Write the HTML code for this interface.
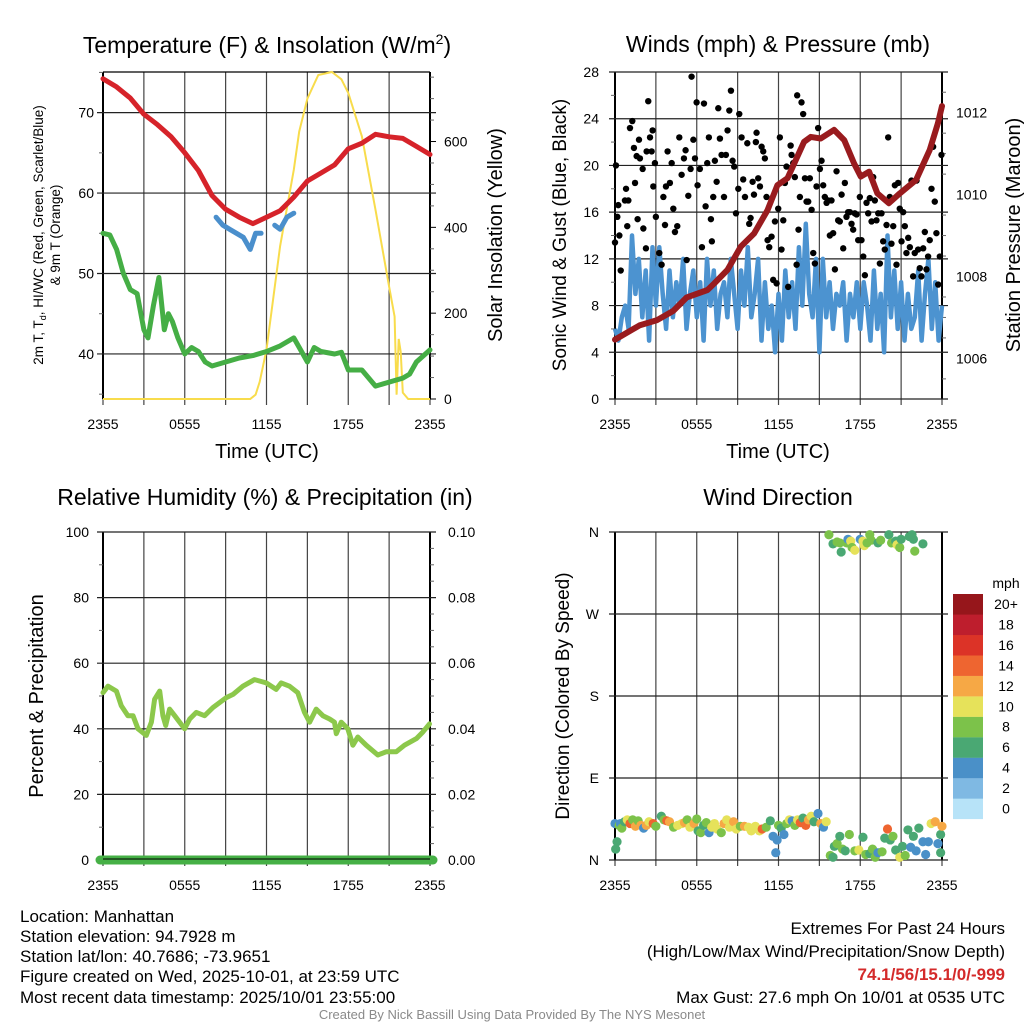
<!DOCTYPE html>
<html><head><meta charset="utf-8"><style>
html,body{margin:0;padding:0;background:#fff}
svg{display:block;font-family:"Liberation Sans",sans-serif}
</style></head><body>
<svg id="chart" width="1024" height="1024" viewBox="0 0 1024 1024" xmlns="http://www.w3.org/2000/svg">
<rect width="1024" height="1024" fill="#fff"/>
<text x="267" y="53" font-size="23" text-anchor="middle">Temperature (F) &amp; Insolation (W/m<tspan font-size="14" dy="-9">2</tspan><tspan dy="9">)</tspan></text>
<text x="778" y="52" font-size="23" text-anchor="middle">Winds (mph) &amp; Pressure (mb)</text>
<text x="265" y="505" font-size="23" text-anchor="middle">Relative Humidity (%) &amp; Precipitation (in)</text>
<text x="778" y="505" font-size="23" text-anchor="middle">Wind Direction</text>
<text x="267" y="458" font-size="20" text-anchor="middle">Time (UTC)</text>
<text x="778" y="458" font-size="20" text-anchor="middle">Time (UTC)</text>
<text transform="translate(43,235) rotate(-90)" font-size="13.5" text-anchor="middle">2m T, T<tspan font-size="9" dy="3">d</tspan><tspan dy="-3">, HI/WC (Red, Green, Scarlet/Blue)</tspan></text>
<text transform="translate(60,235) rotate(-90)" font-size="13.5" text-anchor="middle">&amp; 9m T (Orange)</text>
<text transform="translate(502,235) rotate(-90)" font-size="20" text-anchor="middle">Solar Insolation (Yellow)</text>
<text transform="translate(566,235) rotate(-90)" font-size="19" text-anchor="middle">Sonic Wind &amp; Gust (Blue, Black)</text>
<text transform="translate(1020,235) rotate(-90)" font-size="20" text-anchor="middle">Station Pressure (Maroon)</text>
<text transform="translate(43,696) rotate(-90)" font-size="20" text-anchor="middle">Percent &amp; Precipitation</text>
<text transform="translate(569,696) rotate(-90)" font-size="19" text-anchor="middle">Direction (Colored By Speed)</text>
<text x="1006" y="588" font-size="14" text-anchor="middle">mph</text>
<g font-size="17">
<text x="20" y="922">Location: Manhattan</text>
<text x="20" y="942">Station elevation: 94.7928 m</text>
<text x="20" y="962">Station lat/lon: 40.7686; -73.9651</text>
<text x="20" y="982">Figure created on Wed, 2025-10-01, at 23:59 UTC</text>
<text x="20" y="1003">Most recent data timestamp: 2025/10/01 23:55:00</text>
</g>
<g font-size="17" text-anchor="end">
<text x="1005" y="934">Extremes For Past 24 Hours</text>
<text x="1005" y="957">(High/Low/Max Wind/Precipitation/Snow Depth)</text>
<text x="1005" y="980" fill="#d42a2a" font-weight="bold">74.1/56/15.1/0/-999</text>
<text x="1005" y="1003">Max Gust: 27.6 mph On 10/01 at 0535 UTC</text>
</g>
<text x="512" y="1019" font-size="13" fill="#8a8a8a" text-anchor="middle">Created By Nick Bassill Using Data Provided By The NYS Mesonet</text>
</svg>
<script>
// ---------- data ----------
const timeLabels = ["2355","0555","1155","1755","2355"];
const tempTicks = [40,50,60,70];
const solarTicks = [0,200,400,600];
const windTicks = [0,4,8,12,16,20,24,28];
const presTicks = [1006,1008,1010,1012];
const rhTicks = [0,20,40,60,80,100];
const precipTicks = ["0.00","0.02","0.04","0.06","0.08","0.10"];
const dirTicks = ["N","E","S","W","N"];
const speedBins = ["0","2","4","6","8","10","12","14","16","18","20+"];

const tempT = [0,1,2,3,4,5,6,7,8,9,10,11,12,13,14,15,16,17,18,19,20,21,22,23,24];
const tempV = [74.2,73.2,71.8,69.8,68.5,67,65,62.8,59.7,58,57,56.2,57,57.8,59.5,61.5,62.5,63.5,65.5,66.2,67.3,67,66.8,65.8,64.8];
const wcT = [8.3,8.8,9.3,9.8,10.3,10.8,11.2,11.6,null,12.6,13.0,13.5,14.0];
const wcV = [57,56,55.5,55,54.5,53,55,55,null,56,55.5,57,57.5];
const dewT = [0,0.5,1,1.5,2,2.5,3,3.3,3.7,4.1,4.5,4.8,5.1,5.5,6,6.5,7,7.5,8,9,10,11,12,13,14,14.5,15,15.5,16,17,17.5,18,19,20,21,22,22.5,23,24];
const dewV = [55,54.8,53,50,48,47.5,43,42,46,49.5,43,45,44,42,40,40.8,40.3,39,38.5,39,39.5,39.8,40.3,41,42,40.5,39,40.8,40.3,40,40.2,38,38,36,36.5,37,37.5,39,40.5];
const solarT = [0,10.8,11.2,11.5,12,13,14,14.4,15,15.8,16.8,17.5,18,19,20,21,21.4,21.55,21.7,21.85,22,22.4,24];
const solarV = [0,0,10,40,115,356,534,623,700,755,762,745,713,612,441,262,192,10,140,110,15,0,0];

const windV = [6,5,7,8, 6,14,9,12, 7,11,5,13, 8,13,9,6, 11,7,10,8, 12,6,9,11, 7,10,5,12, 8,11,6,9, 10,7,12,9, 6,11,8,13, 7,9,12,5, 10,6,8,4, 9,5,11,7, 10,6,13,8, 15,9,7,12, 4,12,7,10, 6,9,8,10, 5,9,7,10, 6,10,8,5, 11,6,9,4, 14,7,11,6, 10,5,9,6, 7,11,5,9, 12,6,10,5, 8];
const gustT = [0,0.07,0.17,0.24,0.32,0.42,0.73,0.81,0.98,0.9,1.1,1.27,1.39,1.47,1.59,1.66,1.76,1.83,2.03,2.08,2.27,2.44,2.32,2.57,2.69,2.76,2.93,2.81,3.0,3.25,3.42,3.55,3.67,3.74,3.86,4.03,4.16,4.28,4.4,4.57,4.72,4.89,5.06,5.18,5.26,5.38,5.55,5.62,5.75,5.87,5.99,6.06,6.23,6.38,6.53,6.65,6.77,6.89,7.04,7.11,7.21,7.33,7.46,7.58,7.7,7.82,8.0,8.14,8.26,8.39,8.51,8.63,8.75,8.88,9.05,9.12,9.29,9.41,9.54,9.71,9.85,9.95,10.1,10.2,10.34,10.39,10.51,10.64,10.76,10.88,11.0,11.12,11.2,11.32,11.49,11.61,11.74,11.86,11.98,12.1,12.22,12.35,12.47,12.59,12.71,12.89,12.96,13.08,13.2,13.33,13.37,13.47,13.57,13.69,13.81,13.94,14.06,14.18,14.3,14.43,14.55,14.67,14.79,14.91,15.04,15.16,15.28,15.4,15.53,15.65,15.77,15.89,16.01,16.14,16.26,16.38,16.5,16.63,16.75,16.87,16.99,17.11,17.24,17.36,17.48,17.6,17.73,17.85,17.97,18.09,18.22,18.34,18.46,18.58,18.7,18.83,18.95,19.07,19.19,19.32,19.44,19.56,19.68,19.8,19.93,20.05,20.17,20.29,20.42,20.54,20.66,20.78,20.9,21.03,21.15,21.27,21.39,21.52,21.64,21.76,21.88,22.0,22.13,22.25,22.37,22.49,22.62,22.74,22.86,22.98,23.1,23.23,23.35,23.47,23.59,23.72,23.84,23.96];
const gustV = [13.4,20,15.6,16.6,14,11,17,18,17,14.8,23.2,23.8,21.5,18.5,20.8,15.4,22.2,20.6,19.7,14.6,12.9,25.5,21.2,22.4,21.2,23,20.2,18.2,15.6,12.5,11.5,17.3,14.9,18.2,21.2,18.5,20.2,16.3,14.3,14.8,22.4,19.2,20.6,21.3,11.9,17.4,19.7,27.6,22.2,20.6,25.4,18.3,19.7,13,25.3,16.5,20.2,22.4,15.4,13.5,17.3,20.4,18.6,24.9,22.3,20.9,17.3,20.9,23,24.7,26.4,20.4,19.9,15.9,18,24.4,22.4,18.8,17.3,21.9,15,15.5,18.6,17.5,22,22.8,18.9,18.2,21.6,21.2,20.6,17.3,13.6,13,13.9,10.2,15.2,9.9,16.3,22.4,12.8,15.3,18.5,19.9,9.6,21.7,20.9,20.2,19,11.5,26,14.5,17.3,25.4,24.4,18.9,16.9,16.9,18.9,16.2,12.5,11.6,18.2,23.2,19.7,20.4,18.3,17.3,16.8,17,14,17,14.2,11.1,19.5,15.3,15.2,17.5,12.9,18.5,15.6,16,16,15,14.5,15.9,15.8,13.6,17.3,13.6,12.2,10.6,16.8,15.9,17.2,15.2,19,17,15.3,15.9,11.6,15.9,13.5,12.8,14.9,22.4,17.3,13.3,14.8,18.3,11.5,18.5,16.3,13.5,16,14.8,12.5,13.8,13,18.7,10.5,12.5,18.7,12.8,11.2,10.5,12.9,14.3,11.1,12.2,13.6,18,21.6,16.9,14.2,9.8,12.2,20.9];
const presT = [0,1.83,3.06,4.28,5.26,6.79,7.28,8.26,9.23,10.21,11.19,11.92,12.66,13.88,14.37,15.1,16.08,16.82,17.55,18.04,18.65,19.26,20.1,20.9,22.1,23.1,23.7,24];
const presV = [1006.46,1006.81,1006.93,1007.16,1007.49,1007.67,1007.83,1008.16,1008.73,1009.05,1009.62,1010.23,1010.4,1011.29,1011.41,1011.37,1011.58,1011.33,1010.76,1010.44,1010.56,1010.03,1009.79,1010.03,1010.36,1011.09,1011.74,1012.16];

const rhT = [0,0.37,0.98,1.34,1.83,2.2,2.57,3.18,3.55,3.79,4.16,4.4,4.6,4.89,5.26,5.99,6.36,6.85,7.46,8.07,9.05,9.54,10.27,11.12,11.98,12.71,13.08,13.69,14.3,14.79,15.16,15.65,16.14,16.63,16.99,17.12,17.48,17.97,18.34,18.7,19.32,20.17,20.78,21.52,22.13,23.0,23.47,23.96];
const rhV = [51,53,51.5,47,44,44,40,38,42,49,51.5,44,41,46,44,40,43,45,44,46.5,49.5,50.5,53,55,54,52,54,53,51,45,42,46,44,43,42,38.5,42,40,35,37.5,35,32,33,33,35,37,39,41.5];

const dirT = [0,0.05,0.15,0.3,0.4,0.5,0.7,0.9,1.1,1.3,1.5,1.7,1.9,2.1,2.3,2.5,2.8,3.0,3.4,3.6,3.8,4.0,4.3,4.6,4.9,5.1,5.3,5.5,5.8,6.0,6.1,6.3,6.5,6.7,6.9,7.1,7.3,7.5,7.8,8.0,8.2,8.4,8.7,8.9,9.2,9.5,9.8,10.0,10.3,10.6,10.8,11.1,11.4,11.6,11.8,11.9,12.0,12.2,12.4,12.6,12.8,13.0,13.2,13.4,13.6,13.8,14.0,14.2,14.4,14.6,14.9,15.1,15.3,15.5,15.8,16.0,16.1,16.3,16.5,16.7,16.9,17.2,17.6,17.9,18.2,18.4,18.7,18.9,19.1,19.3,19.6,19.8,20.0,20.2,20.4,20.6,20.9,21.1,21.3,21.5,21.7,21.9,22.1,22.3,22.6,22.8,23.0,23.2,23.5,23.7,23.9,24.0,23.9,15.7,16.0,16.3,16.5,16.6,17.0,17.1,17.3,17.4,17.6,18.0,18.2,18.3,18.5,18.7,18.8,19.3,19.5,20.1,20.3,20.6,20.7,20.9,21.0,21.6,21.8,21.9,22.0,22.6];
const dirD = [40,12,20,38,40,35,42,44,40,44,37,43,38,35,38,42,40,37,48,44,43,42,36,38,40,41,44,36,40,45,32,30,38,41,30,36,40,34,30,40,44,36,42,34,37,37,36,32,37,32,34,36,43,26,8,22,38,35,28,40,44,43,38,44,41,46,38,44,48,42,51,40,36,42,5,3,15,18,26,12,10,28,10,11,25,6,7,12,3,8,9,24,34,22,26,11,3,15,5,33,14,26,10,35,20,6,20,40,42,18,28,37,8,357,347,349,348,338,348,352,350,343,340,352,350,345,348,357,351,348,351,357,348,350,346,343,352,355,357,352,339,347];
const dirS = [4,6,6,8,4,8,6,10,14,8,12,8,12,4,12,10,14,8,6,8,14,12,8,10,10,12,8,10,12,8,6,8,6,8,4,10,10,10,8,12,10,10,12,10,8,12,10,10,10,10,14,8,6,4,4,4,8,6,4,8,10,4,8,10,14,6,14,12,10,6,4,12,4,10,8,6,6,8,6,8,6,8,8,10,6,8,6,8,8,4,8,6,14,6,8,6,10,6,8,6,4,6,4,6,4,4,4,10,12,4,6,12,6,8,6,8,8,6,8,4,10,8,10,4,10,10,8,8,8,6,8,6,8,6,10,8,6,6,6,6,8,6];
const binColors = ["#b7e3f8","#7fb9e3","#4a90c8","#4aa873","#7cc24a","#e6e25a","#f6a845","#ee6530","#dc3327","#be1e2d","#96161b"];

// ---------- helpers ----------
const NS = "http://www.w3.org/2000/svg";
const svg = document.getElementById('chart');
function mk(tag, attrs, name, parent) {
  const el = document.createElementNS(NS, tag);
  for (const k in attrs) el.setAttribute(k, attrs[k]);
  
  
  (parent || svg).appendChild(el);
  return el;
}
function txt(x, y, s, size, anchor, name) {
  const el = mk('text', {x: x, y: y, 'font-size': size, 'text-anchor': anchor}, name);
  el.textContent = s;
  return el;
}
function pathFrom(ts, vs, xf, yf) {
  let d = '', pen = false;
  for (let i = 0; i < ts.length; i++) {
    if (ts[i] === null || vs[i] === null) { pen = false; continue; }
    d += (pen ? 'L' : 'M') + xf(ts[i]).toFixed(1) + ',' + yf(vs[i]).toFixed(1);
    pen = true;
  }
  return d;
}

const L = 103, R = 430, L2 = 615, R2 = 942;
const TOP1 = 72, BOT1 = 399, TOP2 = 532, BOT2 = 860;
const xA = t => L + t / 24 * (R - L);
const xB = t => L2 + t / 24 * (R2 - L2);
const tempY = v => BOT1 - (v - 34.4) / (75.05 - 34.4) * (BOT1 - TOP1);
const solarY = v => BOT1 - v / 762 * (BOT1 - TOP1);
const windY = v => BOT1 - v / 28 * (BOT1 - TOP1);
const presY = p => 112.7 + (1012 - p) * 40.95;
const rhY = v => BOT2 - v / 100 * (BOT2 - TOP2);
const dirY = d => BOT2 - d / 360 * (BOT2 - TOP2);

function frame(x0, x1, y0, y1, name, xf) {
  const g = mk('g', {}, name);
  for (let h = 0; h <= 24; h += 3) {
    const x = xf(h);
    mk('line', {x1: x, x2: x, y1: y0, y2: y1 + 6, stroke: '#444', 'stroke-width': 1.2}, 'vertical-gridline', g);
  }
  timeLabels.forEach((s, i) => {
    const el = txt(xf(i * 6), y1 + 30, s, 14, 'middle', 'x-tick-label');
  });
  mk('line', {x1: x0, x2: x0, y1: y0, y2: y1, stroke: '#000', 'stroke-width': 2}, 'left-axis', g);
  mk('line', {x1: x1, x2: x1, y1: y0, y2: y1, stroke: '#000', 'stroke-width': 2}, 'right-axis', g);
  return g;
}
function hgrid(y, x0, x1, name) {
  mk('line', {x1: x0 - 6, x2: x1 + 6, y1: y, y2: y, stroke: '#222', 'stroke-width': 1.2}, name);
}
function minorTick(x, y, dir) {
  mk('line', {x1: x, x2: x + dir * 4, y1: y, y2: y, stroke: '#666', 'stroke-width': 1}, 'minor-tick');
}

// ---------- Panel 1: temperature ----------
frame(L, R, TOP1, BOT1, 'temperature-frame', xA);
mk('line', {x1: L, x2: R, y1: TOP1, y2: TOP1, stroke: '#000', 'stroke-width': 1.2}, 'temp-top-border');
tempTicks.forEach(v => { hgrid(tempY(v), L, R, 'temp-gridline'); txt(L - 9, tempY(v) + 5, String(v), 14, 'end', 'temp-tick-label'); });
[35,45,55,65,75].forEach(v => minorTick(L, tempY(v), -1));
solarTicks.forEach(v => { txt(R + 14, solarY(v) + 5, String(v), 14, 'start', 'solar-tick-label'); mk('line', {x1: R, x2: R + 6, y1: solarY(v), y2: solarY(v), stroke: '#000'}, 'solar-tick'); });
[100,300,500,700,50,150,250,350,450,550,650,750].forEach(v => minorTick(R, solarY(v), 1));
mk('path', {d: pathFrom(solarT, solarV, xA, solarY), fill: 'none', stroke: '#f8dc4c', 'stroke-width': 2}, 'solar-insolation-line');
mk('path', {d: pathFrom(dewT, dewV, xA, tempY), fill: 'none', stroke: '#45ae45', 'stroke-width': 5, 'stroke-linejoin': 'round', 'stroke-linecap': 'round'}, 'dewpoint-line');
mk('path', {d: pathFrom(wcT, wcV, xA, tempY), fill: 'none', stroke: '#4a8fcc', 'stroke-width': 5, 'stroke-linejoin': 'round', 'stroke-linecap': 'round'}, 'wind-chill-line');
mk('path', {d: pathFrom(tempT, tempV, xA, tempY), fill: 'none', stroke: '#d6232a', 'stroke-width': 5, 'stroke-linejoin': 'round', 'stroke-linecap': 'round'}, 'temperature-line');

// ---------- Panel 2: winds ----------
frame(L2, R2, TOP1, BOT1, 'winds-frame', xB);
windTicks.forEach(v => { hgrid(windY(v), L2, R2, 'wind-gridline'); txt(L2 - 16, windY(v) + 5, String(v), 14, 'end', 'wind-tick-label'); });
[2,6,10,14,18,22,26].forEach(v => minorTick(L2, windY(v), -1));
presTicks.forEach(v => txt(R2 + 14, presY(v) + 5, String(v), 14, 'start', 'pressure-tick-label'));
[1005.5,1006.5,1007,1007.5,1008.5,1009,1009.5,1010.5,1011,1011.5,1012.5].forEach(v => minorTick(R2, presY(v), 1));
const windT = windV.map((v, i) => i * 0.25);
mk('path', {d: pathFrom(windT, windV, xB, windY), fill: 'none', stroke: '#4c93d0', 'stroke-width': 4.5, 'stroke-linejoin': 'round'}, 'sonic-wind-line');
gustT.forEach((t, i) => {
  const c = mk('circle', {cx: xB(t), cy: windY(gustV[i]), r: 3.2, fill: '#000'}, 'gust-point');
});
mk('path', {d: pathFrom(presT, presV, xB, presY), fill: 'none', stroke: '#991b1e', 'stroke-width': 6, 'stroke-linejoin': 'round', 'stroke-linecap': 'round'}, 'pressure-line');

// ---------- Panel 3: humidity ----------
frame(L, R, TOP2, BOT2, 'humidity-frame', xA);
rhTicks.forEach((v, i) => {
  hgrid(rhY(v), L, R, 'rh-gridline');
  txt(L - 14, rhY(v) + 5, String(v), 14, 'end', 'rh-tick-label');
  txt(R + 18, rhY(v) + 5, precipTicks[i], 14, 'start', 'precip-tick-label');
});
[10,30,50,70,90].forEach(v => minorTick(L, rhY(v), -1));
[5,10,15,25,30,35,45,50,55,65,70,75,85,90,95].forEach(v => minorTick(R, rhY(v), 1));
mk('path', {d: pathFrom(rhT, rhV, xA, rhY), fill: 'none', stroke: '#8cc84b', 'stroke-width': 5, 'stroke-linejoin': 'round', 'stroke-linecap': 'round'}, 'relative-humidity-line');
mk('line', {x1: L - 3, x2: R + 3, y1: BOT2, y2: BOT2, stroke: '#46b046', 'stroke-width': 9, 'stroke-linecap': 'round'}, 'precipitation-line');
mk('line', {x1: L, x2: R, y1: BOT2 - 1, y2: BOT2 - 1, stroke: '#000', 'stroke-width': 1}, 'rh-bottom-axis');

// ---------- Panel 4: wind direction ----------
frame(L2, R2, TOP2, BOT2, 'direction-frame', xB);
dirTicks.forEach((s, i) => { hgrid(dirY(i * 90), L2, R2, 'direction-gridline'); txt(L2 - 16, dirY(i * 90) + 5, s, 14, 'end', 'direction-tick-label'); });
dirT.forEach((t, i) => {
  const b = Math.min(10, Math.floor(dirS[i] / 2));
  const c = mk('circle', {cx: xB(t), cy: dirY(dirD[i]), r: 4.6, fill: binColors[b]}, 'direction-point');
});
speedBins.forEach((s, i) => {
  const y = 594 + (10 - i) * 20.45;
  mk('rect', {x: 953, y: y, width: 30, height: 20.6, fill: binColors[i]}, 'colorbar-box');
  txt(1006, y + 15, s, 14, 'middle', 'colorbar-label');
});
</script>
</body></html>
